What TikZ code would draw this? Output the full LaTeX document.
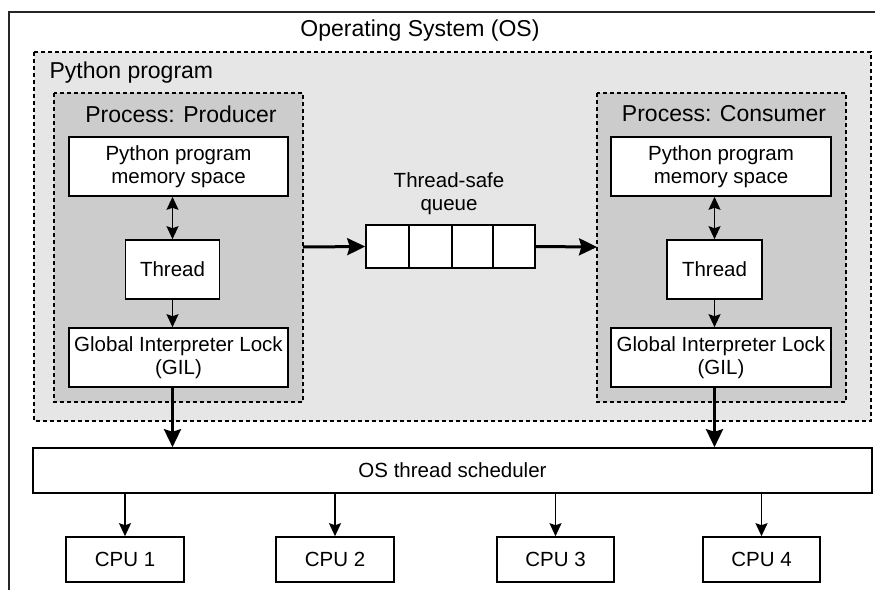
\documentclass[tikz,border=0pt]{standalone}
\usepackage{fontspec}
\setmainfont{Liberation Sans}
\usetikzlibrary{arrows.meta}
\definecolor{progfill}{HTML}{E6E6E6}
\definecolor{procfill}{HTML}{CCCCCC}
\begin{document}
\begin{tikzpicture}[x=1pt,y=-1pt,
  headfont/.style={font=\fontsize{23}{27}\selectfont},
  bodyfont/.style={font=\fontsize{20.5}{23}\selectfont},
  region/.style={draw=black, line width=1.3pt, dash pattern=on 4pt off 3pt},
  plainbox/.style={draw=black, fill=white, line width=1.6pt, inner sep=0pt,
    align=center, bodyfont},
  thin/.style={line width=1.6pt, -{Stealth[length=13pt,width=12pt,inset=2pt]}},
  thinboth/.style={line width=1.6pt, {Stealth[length=13pt,width=12pt,inset=2pt]}-{Stealth[length=13pt,width=12pt,inset=2pt]}},
  bold/.style={line width=3pt, -{Stealth[length=18pt,width=17pt,inset=2.5pt]}},
]
\useasboundingbox (0,0) rectangle (875,590);
\fill[white] (0,0) rectangle (875,590);

% operating system frame (open to the right and bottom)
\draw[line width=1.5pt, draw=black!85] (9,590) -- (9,12) -- (875,12);
\node[headfont] (ostitle) at (420,31) {Operating System (OS)};

% python program region
\filldraw[region, fill=progfill] (34,52) rectangle (871,421);
\node[headfont, anchor=base west] (progtitle) at (46,78) {Python program};

% process regions
\filldraw[region, fill=procfill] (54,93) rectangle (303,402);
\filldraw[region, fill=procfill] (597,93) rectangle (846,402);
\coordinate (prodR) at (303,247);
\coordinate (consL) at (597,247);
\node[headfont] (prodtitle) at (181,114) {Process: Producer};
\node[headfont] (constitle) at (724,114) {Process: Consumer};

% producer internals
\node[plainbox, minimum width=219pt, minimum height=59pt] (pmem) at (178.5,166.5) {Python program\\memory space};
\node[plainbox, minimum width=94pt, minimum height=59pt] (pthr) at (172.5,269.5) {Thread};
\node[plainbox, minimum width=219pt, minimum height=59pt] (pgil) at (178.5,357.5) {Global Interpreter Lock\\(GIL)};

% consumer internals
\node[plainbox, minimum width=220pt, minimum height=59pt] (cmem) at (721,166.5) {Python program\\memory space};
\node[plainbox, minimum width=95pt, minimum height=59pt] (cthr) at (714.5,269.5) {Thread};
\node[plainbox, minimum width=220pt, minimum height=59pt] (cgil) at (721,357.5) {Global Interpreter Lock\\(GIL)};

\draw[thinboth] (pthr.north) -- (pthr.north |- pmem.south);
\draw[thin] (pthr.south) -- (pthr.south |- pgil.north);
\draw[thinboth] (cthr.north) -- (cthr.north |- cmem.south);
\draw[thin] (cthr.south) -- (cthr.south |- cgil.north);

% thread-safe queue
\node[bodyfont, align=center] (qlabel) at (449,194) {Thread-safe\\queue};
\node[plainbox, minimum width=43pt, minimum height=43pt] (q1) at (387.5,246.5) {};
\node[plainbox, minimum width=43pt, minimum height=43pt] (q2) at (430.5,246.5) {};
\node[plainbox, minimum width=41pt, minimum height=43pt] (q3) at (472.5,246.5) {};
\node[plainbox, minimum width=42pt, minimum height=43pt] (q4) at (514,246.5) {};

\draw[bold] (prodR) -- (q1.west);
\draw[bold] (q4.east) -- (consL);

% scheduler and CPUs
\node[plainbox, minimum width=839pt, minimum height=45pt] (sched) at (452.5,470.5) {OS thread scheduler};
\node[plainbox, minimum width=118pt, minimum height=45pt] (cpu1) at (125,559.5) {CPU 1};
\node[plainbox, minimum width=118pt, minimum height=45pt] (cpu2) at (335,559.5) {CPU 2};
\node[plainbox, minimum width=117pt, minimum height=45pt] (cpu3) at (555.5,559.5) {CPU 3};
\node[plainbox, minimum width=117pt, minimum height=45pt] (cpu4) at (761.5,559.5) {CPU 4};

\draw[bold] (pthr.south |- pgil.south) -- (pthr.south |- sched.north);
\draw[bold] (cthr.south |- cgil.south) -- (cthr.south |- sched.north);

\foreach \c in {cpu1,cpu2,cpu3,cpu4}
  \draw[thin] (\c.north |- sched.south) -- (\c.north);
\end{tikzpicture}
\end{document}
